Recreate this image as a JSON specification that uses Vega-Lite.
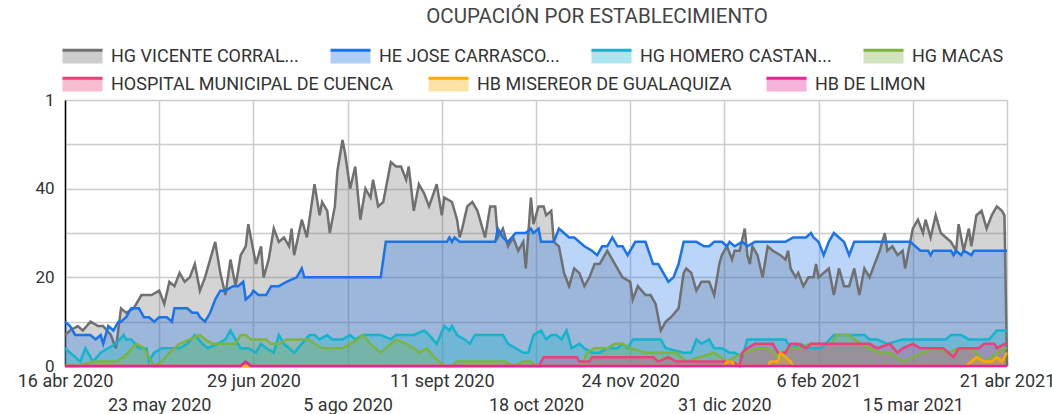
{
"$schema":"https://vega.github.io/schema/vega-lite/v6.json",
"width":942,"height":266,
"autosize":{"type":"none"},
"padding":{"left":65,"top":100,"right":45,"bottom":48},
"config":{"font":"Roboto","view":{"stroke":null}},
"title":{"text":"OCUPACIÓN POR ESTABLECIMIENTO","fontSize":20.5,"fontWeight":"normal","color":"#444444","anchor":"middle","frame":"group","dx":61,"offset":8},
"datasets":{
"names":[
{"s":"A","name":"HG VICENTE CORRAL..."},
{"s":"B","name":"HE JOSE CARRASCO..."},
{"s":"C","name":"HG HOMERO CASTAN..."},
{"s":"D","name":"HG MACAS"},
{"s":"E","name":"HOSPITAL MUNICIPAL DE CUENCA"},
{"s":"F","name":"HB MISEREOR DE GUALAQUIZA"},
{"s":"G","name":"HB DE LIMON"}
],
"occ":[
{"s":"A","d":"2020-04-16","v":7},{"s":"A","d":"2020-04-18","v":8},{"s":"A","d":"2020-04-21","v":9},{"s":"A","d":"2020-04-23","v":8},{"s":"A","d":"2020-04-26","v":10},{"s":"A","d":"2020-04-29","v":9},{"s":"A","d":"2020-05-01","v":9},{"s":"A","d":"2020-05-04","v":7},{"s":"A","d":"2020-05-06","v":4},{"s":"A","d":"2020-05-08","v":13},{"s":"A","d":"2020-05-10","v":12},{"s":"A","d":"2020-05-13","v":13},{"s":"A","d":"2020-05-16","v":16},{"s":"A","d":"2020-05-20","v":16},{"s":"A","d":"2020-05-23","v":17},{"s":"A","d":"2020-05-25","v":14},{"s":"A","d":"2020-05-27","v":19},{"s":"A","d":"2020-05-29","v":18},{"s":"A","d":"2020-05-31","v":21},{"s":"A","d":"2020-06-02","v":19},{"s":"A","d":"2020-06-04","v":20},{"s":"A","d":"2020-06-06","v":23},{"s":"A","d":"2020-06-08","v":17},{"s":"A","d":"2020-06-10","v":20},{"s":"A","d":"2020-06-12","v":24},{"s":"A","d":"2020-06-14","v":28},{"s":"A","d":"2020-06-16","v":21},{"s":"A","d":"2020-06-18","v":16},{"s":"A","d":"2020-06-20","v":24},{"s":"A","d":"2020-06-22","v":18},{"s":"A","d":"2020-06-24","v":25},{"s":"A","d":"2020-06-26","v":27},{"s":"A","d":"2020-06-27","v":32},{"s":"A","d":"2020-06-29","v":26},{"s":"A","d":"2020-06-30","v":23},{"s":"A","d":"2020-07-02","v":27},{"s":"A","d":"2020-07-03","v":20},{"s":"A","d":"2020-07-05","v":24},{"s":"A","d":"2020-07-07","v":31},{"s":"A","d":"2020-07-09","v":28},{"s":"A","d":"2020-07-11","v":29},{"s":"A","d":"2020-07-13","v":27},{"s":"A","d":"2020-07-14","v":31},{"s":"A","d":"2020-07-15","v":25},{"s":"A","d":"2020-07-18","v":33},{"s":"A","d":"2020-07-20","v":29},{"s":"A","d":"2020-07-23","v":41},{"s":"A","d":"2020-07-25","v":34},{"s":"A","d":"2020-07-26","v":37},{"s":"A","d":"2020-07-28","v":35},{"s":"A","d":"2020-07-29","v":30},{"s":"A","d":"2020-07-31","v":36},{"s":"A","d":"2020-08-01","v":44},{"s":"A","d":"2020-08-03","v":51},{"s":"A","d":"2020-08-04","v":48},{"s":"A","d":"2020-08-06","v":40},{"s":"A","d":"2020-08-08","v":45},{"s":"A","d":"2020-08-10","v":33},{"s":"A","d":"2020-08-12","v":40},{"s":"A","d":"2020-08-14","v":38},{"s":"A","d":"2020-08-15","v":42},{"s":"A","d":"2020-08-17","v":36},{"s":"A","d":"2020-08-19","v":37},{"s":"A","d":"2020-08-22","v":46},{"s":"A","d":"2020-08-24","v":45},{"s":"A","d":"2020-08-26","v":45},{"s":"A","d":"2020-08-28","v":42},{"s":"A","d":"2020-08-29","v":45},{"s":"A","d":"2020-08-31","v":35},{"s":"A","d":"2020-09-02","v":41},{"s":"A","d":"2020-09-04","v":39},{"s":"A","d":"2020-09-06","v":36},{"s":"A","d":"2020-09-09","v":41},{"s":"A","d":"2020-09-11","v":34},{"s":"A","d":"2020-09-12","v":38},{"s":"A","d":"2020-09-15","v":37},{"s":"A","d":"2020-09-17","v":33},{"s":"A","d":"2020-09-18","v":29},{"s":"A","d":"2020-09-19","v":31},{"s":"A","d":"2020-09-21","v":36},{"s":"A","d":"2020-09-23","v":37},{"s":"A","d":"2020-09-25","v":35},{"s":"A","d":"2020-09-27","v":31},{"s":"A","d":"2020-09-28","v":29},{"s":"A","d":"2020-09-30","v":36},{"s":"A","d":"2020-10-02","v":36},{"s":"A","d":"2020-10-03","v":29},{"s":"A","d":"2020-10-05","v":31},{"s":"A","d":"2020-10-07","v":27},{"s":"A","d":"2020-10-09","v":29},{"s":"A","d":"2020-10-11","v":26},{"s":"A","d":"2020-10-13","v":28},{"s":"A","d":"2020-10-14","v":22},{"s":"A","d":"2020-10-16","v":38},{"s":"A","d":"2020-10-17","v":32},{"s":"A","d":"2020-10-19","v":36},{"s":"A","d":"2020-10-21","v":36},{"s":"A","d":"2020-10-22","v":34},{"s":"A","d":"2020-10-24","v":35},{"s":"A","d":"2020-10-25","v":28},{"s":"A","d":"2020-10-27","v":27},{"s":"A","d":"2020-10-29","v":21},{"s":"A","d":"2020-10-31","v":18},{"s":"A","d":"2020-11-02","v":22},{"s":"A","d":"2020-11-04","v":21},{"s":"A","d":"2020-11-06","v":18},{"s":"A","d":"2020-11-08","v":20},{"s":"A","d":"2020-11-10","v":23},{"s":"A","d":"2020-11-12","v":23},{"s":"A","d":"2020-11-15","v":26},{"s":"A","d":"2020-11-18","v":23},{"s":"A","d":"2020-11-21","v":20},{"s":"A","d":"2020-11-24","v":19},{"s":"A","d":"2020-11-25","v":15},{"s":"A","d":"2020-11-27","v":18},{"s":"A","d":"2020-11-30","v":16},{"s":"A","d":"2020-12-02","v":16},{"s":"A","d":"2020-12-04","v":14},{"s":"A","d":"2020-12-05","v":11},{"s":"A","d":"2020-12-06","v":8},{"s":"A","d":"2020-12-08","v":10},{"s":"A","d":"2020-12-10","v":11},{"s":"A","d":"2020-12-13","v":13},{"s":"A","d":"2020-12-15","v":21},{"s":"A","d":"2020-12-16","v":22},{"s":"A","d":"2020-12-18","v":21},{"s":"A","d":"2020-12-20","v":17},{"s":"A","d":"2020-12-22","v":19},{"s":"A","d":"2020-12-25","v":19},{"s":"A","d":"2020-12-27","v":16},{"s":"A","d":"2020-12-29","v":23},{"s":"A","d":"2020-12-30","v":25},{"s":"A","d":"2021-01-01","v":27},{"s":"A","d":"2021-01-03","v":24},{"s":"A","d":"2021-01-04","v":26},{"s":"A","d":"2021-01-06","v":26},{"s":"A","d":"2021-01-08","v":31},{"s":"A","d":"2021-01-09","v":25},{"s":"A","d":"2021-01-10","v":23},{"s":"A","d":"2021-01-11","v":27},{"s":"A","d":"2021-01-13","v":25},{"s":"A","d":"2021-01-15","v":20},{"s":"A","d":"2021-01-17","v":27},{"s":"A","d":"2021-01-19","v":26},{"s":"A","d":"2021-01-22","v":25},{"s":"A","d":"2021-01-24","v":24},{"s":"A","d":"2021-01-25","v":26},{"s":"A","d":"2021-01-26","v":22},{"s":"A","d":"2021-01-28","v":20},{"s":"A","d":"2021-01-29","v":21},{"s":"A","d":"2021-01-31","v":18},{"s":"A","d":"2021-02-02","v":20},{"s":"A","d":"2021-02-04","v":20},{"s":"A","d":"2021-02-05","v":23},{"s":"A","d":"2021-02-06","v":20},{"s":"A","d":"2021-02-08","v":21},{"s":"A","d":"2021-02-10","v":22},{"s":"A","d":"2021-02-12","v":16},{"s":"A","d":"2021-02-14","v":22},{"s":"A","d":"2021-02-16","v":18},{"s":"A","d":"2021-02-18","v":18},{"s":"A","d":"2021-02-20","v":22},{"s":"A","d":"2021-02-22","v":16},{"s":"A","d":"2021-02-24","v":22},{"s":"A","d":"2021-02-26","v":20},{"s":"A","d":"2021-02-28","v":23},{"s":"A","d":"2021-03-02","v":26},{"s":"A","d":"2021-03-04","v":30},{"s":"A","d":"2021-03-05","v":26},{"s":"A","d":"2021-03-07","v":27},{"s":"A","d":"2021-03-09","v":25},{"s":"A","d":"2021-03-11","v":26},{"s":"A","d":"2021-03-12","v":22},{"s":"A","d":"2021-03-14","v":28},{"s":"A","d":"2021-03-15","v":31},{"s":"A","d":"2021-03-17","v":33},{"s":"A","d":"2021-03-19","v":30},{"s":"A","d":"2021-03-20","v":33},{"s":"A","d":"2021-03-22","v":29},{"s":"A","d":"2021-03-24","v":34},{"s":"A","d":"2021-03-26","v":30},{"s":"A","d":"2021-03-28","v":29},{"s":"A","d":"2021-03-30","v":28},{"s":"A","d":"2021-04-01","v":26},{"s":"A","d":"2021-04-02","v":32},{"s":"A","d":"2021-04-04","v":26},{"s":"A","d":"2021-04-06","v":31},{"s":"A","d":"2021-04-07","v":27},{"s":"A","d":"2021-04-09","v":34},{"s":"A","d":"2021-04-11","v":35},{"s":"A","d":"2021-04-13","v":31},{"s":"A","d":"2021-04-15","v":34},{"s":"A","d":"2021-04-17","v":36},{"s":"A","d":"2021-04-19","v":35},{"s":"A","d":"2021-04-20","v":34},{"s":"A","d":"2021-04-21","v":0},
{"s":"B","d":"2020-04-16","v":10},{"s":"B","d":"2020-04-18","v":9},{"s":"B","d":"2020-04-20","v":7},{"s":"B","d":"2020-04-23","v":7},{"s":"B","d":"2020-04-26","v":7},{"s":"B","d":"2020-04-28","v":6},{"s":"B","d":"2020-04-30","v":7},{"s":"B","d":"2020-05-01","v":5},{"s":"B","d":"2020-05-03","v":9},{"s":"B","d":"2020-05-05","v":8},{"s":"B","d":"2020-05-07","v":10},{"s":"B","d":"2020-05-08","v":10},{"s":"B","d":"2020-05-10","v":11},{"s":"B","d":"2020-05-12","v":13},{"s":"B","d":"2020-05-15","v":13},{"s":"B","d":"2020-05-17","v":11},{"s":"B","d":"2020-05-19","v":11},{"s":"B","d":"2020-05-21","v":10},{"s":"B","d":"2020-05-23","v":11},{"s":"B","d":"2020-05-26","v":11},{"s":"B","d":"2020-05-28","v":10},{"s":"B","d":"2020-05-29","v":13},{"s":"B","d":"2020-05-31","v":13},{"s":"B","d":"2020-06-03","v":13},{"s":"B","d":"2020-06-05","v":12},{"s":"B","d":"2020-06-07","v":12},{"s":"B","d":"2020-06-08","v":11},{"s":"B","d":"2020-06-10","v":10},{"s":"B","d":"2020-06-12","v":12},{"s":"B","d":"2020-06-14","v":15},{"s":"B","d":"2020-06-16","v":17},{"s":"B","d":"2020-06-18","v":17},{"s":"B","d":"2020-06-21","v":18},{"s":"B","d":"2020-06-23","v":18},{"s":"B","d":"2020-06-25","v":19},{"s":"B","d":"2020-06-26","v":15},{"s":"B","d":"2020-06-28","v":16},{"s":"B","d":"2020-06-29","v":17},{"s":"B","d":"2020-07-01","v":16},{"s":"B","d":"2020-07-04","v":16},{"s":"B","d":"2020-07-06","v":18},{"s":"B","d":"2020-07-09","v":18},{"s":"B","d":"2020-07-12","v":19},{"s":"B","d":"2020-07-16","v":20},{"s":"B","d":"2020-07-18","v":22},{"s":"B","d":"2020-07-19","v":20},{"s":"B","d":"2020-08-18","v":20},{"s":"B","d":"2020-08-20","v":28},{"s":"B","d":"2020-09-13","v":28},{"s":"B","d":"2020-09-14","v":29},{"s":"B","d":"2020-09-15","v":28},{"s":"B","d":"2020-09-16","v":29},{"s":"B","d":"2020-09-18","v":28},{"s":"B","d":"2020-10-02","v":28},{"s":"B","d":"2020-10-03","v":31},{"s":"B","d":"2020-10-05","v":29},{"s":"B","d":"2020-10-07","v":28},{"s":"B","d":"2020-10-10","v":30},{"s":"B","d":"2020-10-14","v":30},{"s":"B","d":"2020-10-16","v":31},{"s":"B","d":"2020-10-17","v":30},{"s":"B","d":"2020-10-19","v":31},{"s":"B","d":"2020-10-20","v":28},{"s":"B","d":"2020-10-25","v":28},{"s":"B","d":"2020-10-27","v":31},{"s":"B","d":"2020-10-29","v":30},{"s":"B","d":"2020-10-31","v":29},{"s":"B","d":"2020-11-02","v":29},{"s":"B","d":"2020-11-06","v":27},{"s":"B","d":"2020-11-09","v":26},{"s":"B","d":"2020-11-11","v":25},{"s":"B","d":"2020-11-13","v":27},{"s":"B","d":"2020-11-15","v":27},{"s":"B","d":"2020-11-17","v":29},{"s":"B","d":"2020-11-19","v":27},{"s":"B","d":"2020-11-21","v":27},{"s":"B","d":"2020-11-23","v":25},{"s":"B","d":"2020-11-26","v":28},{"s":"B","d":"2020-11-30","v":28},{"s":"B","d":"2020-12-03","v":23},{"s":"B","d":"2020-12-05","v":23},{"s":"B","d":"2020-12-07","v":21},{"s":"B","d":"2020-12-09","v":19},{"s":"B","d":"2020-12-11","v":20},{"s":"B","d":"2020-12-13","v":23},{"s":"B","d":"2020-12-15","v":28},{"s":"B","d":"2020-12-20","v":28},{"s":"B","d":"2020-12-23","v":27},{"s":"B","d":"2020-12-25","v":27},{"s":"B","d":"2020-12-27","v":28},{"s":"B","d":"2020-12-30","v":28},{"s":"B","d":"2021-01-01","v":27},{"s":"B","d":"2021-01-02","v":28},{"s":"B","d":"2021-01-04","v":27},{"s":"B","d":"2021-01-07","v":28},{"s":"B","d":"2021-01-09","v":27},{"s":"B","d":"2021-01-12","v":28},{"s":"B","d":"2021-01-24","v":28},{"s":"B","d":"2021-01-27","v":29},{"s":"B","d":"2021-02-01","v":29},{"s":"B","d":"2021-02-03","v":30},{"s":"B","d":"2021-02-04","v":29},{"s":"B","d":"2021-02-06","v":28},{"s":"B","d":"2021-02-08","v":25},{"s":"B","d":"2021-02-10","v":28},{"s":"B","d":"2021-02-12","v":30},{"s":"B","d":"2021-02-14","v":29},{"s":"B","d":"2021-02-16","v":28},{"s":"B","d":"2021-02-18","v":25},{"s":"B","d":"2021-02-20","v":28},{"s":"B","d":"2021-03-14","v":28},{"s":"B","d":"2021-03-16","v":27},{"s":"B","d":"2021-03-18","v":26},{"s":"B","d":"2021-03-21","v":26},{"s":"B","d":"2021-03-22","v":25},{"s":"B","d":"2021-03-23","v":26},{"s":"B","d":"2021-03-30","v":26},{"s":"B","d":"2021-03-31","v":25},{"s":"B","d":"2021-04-01","v":26},{"s":"B","d":"2021-04-03","v":25},{"s":"B","d":"2021-04-04","v":26},{"s":"B","d":"2021-04-07","v":25},{"s":"B","d":"2021-04-08","v":26},{"s":"B","d":"2021-04-21","v":26},
{"s":"C","d":"2020-04-16","v":4},{"s":"C","d":"2020-04-18","v":3},{"s":"C","d":"2020-04-20","v":2},{"s":"C","d":"2020-04-22","v":1},{"s":"C","d":"2020-04-24","v":4},{"s":"C","d":"2020-04-27","v":1},{"s":"C","d":"2020-04-30","v":3},{"s":"C","d":"2020-05-03","v":4},{"s":"C","d":"2020-05-06","v":5},{"s":"C","d":"2020-05-09","v":7},{"s":"C","d":"2020-05-10","v":6},{"s":"C","d":"2020-05-12","v":6},{"s":"C","d":"2020-05-15","v":4},{"s":"C","d":"2020-05-18","v":4},{"s":"C","d":"2020-05-19","v":1},{"s":"C","d":"2020-05-21","v":3},{"s":"C","d":"2020-05-24","v":4},{"s":"C","d":"2020-05-27","v":4},{"s":"C","d":"2020-05-31","v":4},{"s":"C","d":"2020-06-03","v":5},{"s":"C","d":"2020-06-06","v":7},{"s":"C","d":"2020-06-09","v":5},{"s":"C","d":"2020-06-11","v":4},{"s":"C","d":"2020-06-15","v":5},{"s":"C","d":"2020-06-18","v":6},{"s":"C","d":"2020-06-20","v":8},{"s":"C","d":"2020-06-22","v":6},{"s":"C","d":"2020-06-24","v":4},{"s":"C","d":"2020-06-27","v":4},{"s":"C","d":"2020-06-30","v":3},{"s":"C","d":"2020-07-02","v":5},{"s":"C","d":"2020-07-04","v":4},{"s":"C","d":"2020-07-07","v":3},{"s":"C","d":"2020-07-09","v":7},{"s":"C","d":"2020-07-11","v":5},{"s":"C","d":"2020-07-13","v":4},{"s":"C","d":"2020-07-15","v":3},{"s":"C","d":"2020-07-18","v":5},{"s":"C","d":"2020-07-21","v":7},{"s":"C","d":"2020-07-23","v":7},{"s":"C","d":"2020-07-25","v":6},{"s":"C","d":"2020-07-28","v":7},{"s":"C","d":"2020-07-30","v":6},{"s":"C","d":"2020-08-01","v":6},{"s":"C","d":"2020-08-03","v":6},{"s":"C","d":"2020-08-06","v":7},{"s":"C","d":"2020-08-08","v":6},{"s":"C","d":"2020-08-11","v":7},{"s":"C","d":"2020-08-14","v":7},{"s":"C","d":"2020-08-18","v":7},{"s":"C","d":"2020-08-22","v":6},{"s":"C","d":"2020-08-24","v":7},{"s":"C","d":"2020-08-28","v":7},{"s":"C","d":"2020-08-31","v":7},{"s":"C","d":"2020-09-04","v":8},{"s":"C","d":"2020-09-06","v":7},{"s":"C","d":"2020-09-09","v":5},{"s":"C","d":"2020-09-12","v":9},{"s":"C","d":"2020-09-14","v":8},{"s":"C","d":"2020-09-15","v":9},{"s":"C","d":"2020-09-17","v":7},{"s":"C","d":"2020-09-20","v":6},{"s":"C","d":"2020-09-22","v":5},{"s":"C","d":"2020-09-24","v":7},{"s":"C","d":"2020-09-28","v":7},{"s":"C","d":"2020-10-02","v":7},{"s":"C","d":"2020-10-05","v":7},{"s":"C","d":"2020-10-07","v":5},{"s":"C","d":"2020-10-10","v":4},{"s":"C","d":"2020-10-13","v":3},{"s":"C","d":"2020-10-15","v":3},{"s":"C","d":"2020-10-17","v":7},{"s":"C","d":"2020-10-20","v":8},{"s":"C","d":"2020-10-22","v":6},{"s":"C","d":"2020-10-24","v":7},{"s":"C","d":"2020-10-26","v":7},{"s":"C","d":"2020-10-28","v":6},{"s":"C","d":"2020-10-30","v":8},{"s":"C","d":"2020-11-01","v":4},{"s":"C","d":"2020-11-04","v":5},{"s":"C","d":"2020-11-06","v":4},{"s":"C","d":"2020-11-09","v":3},{"s":"C","d":"2020-11-12","v":3},{"s":"C","d":"2020-11-15","v":4},{"s":"C","d":"2020-11-19","v":4},{"s":"C","d":"2020-11-21","v":5},{"s":"C","d":"2020-11-23","v":4},{"s":"C","d":"2020-11-25","v":6},{"s":"C","d":"2020-12-06","v":6},{"s":"C","d":"2020-12-08","v":4},{"s":"C","d":"2020-12-15","v":3},{"s":"C","d":"2020-12-18","v":3},{"s":"C","d":"2020-12-20","v":6},{"s":"C","d":"2020-12-22","v":5},{"s":"C","d":"2020-12-25","v":6},{"s":"C","d":"2020-12-27","v":4},{"s":"C","d":"2020-12-30","v":4},{"s":"C","d":"2021-01-02","v":3},{"s":"C","d":"2021-01-04","v":3},{"s":"C","d":"2021-01-07","v":2},{"s":"C","d":"2021-01-09","v":6},{"s":"C","d":"2021-01-12","v":6},{"s":"C","d":"2021-01-24","v":6},{"s":"C","d":"2021-01-26","v":4},{"s":"C","d":"2021-01-30","v":5},{"s":"C","d":"2021-02-02","v":4},{"s":"C","d":"2021-02-07","v":4},{"s":"C","d":"2021-02-12","v":7},{"s":"C","d":"2021-02-16","v":7},{"s":"C","d":"2021-02-24","v":7},{"s":"C","d":"2021-02-26","v":6},{"s":"C","d":"2021-03-01","v":6},{"s":"C","d":"2021-03-05","v":5},{"s":"C","d":"2021-03-11","v":6},{"s":"C","d":"2021-03-15","v":6},{"s":"C","d":"2021-03-28","v":6},{"s":"C","d":"2021-03-30","v":7},{"s":"C","d":"2021-04-03","v":7},{"s":"C","d":"2021-04-06","v":6},{"s":"C","d":"2021-04-11","v":6},{"s":"C","d":"2021-04-14","v":6},{"s":"C","d":"2021-04-17","v":8},{"s":"C","d":"2021-04-20","v":8},{"s":"C","d":"2021-04-21","v":8},
{"s":"D","d":"2020-04-16","v":0},{"s":"D","d":"2020-04-21","v":0},{"s":"D","d":"2020-04-27","v":1},{"s":"D","d":"2020-05-01","v":1},{"s":"D","d":"2020-05-06","v":1},{"s":"D","d":"2020-05-09","v":2},{"s":"D","d":"2020-05-14","v":5},{"s":"D","d":"2020-05-17","v":4},{"s":"D","d":"2020-05-19","v":2},{"s":"D","d":"2020-05-21","v":0},{"s":"D","d":"2020-05-24","v":1},{"s":"D","d":"2020-05-27","v":3},{"s":"D","d":"2020-05-31","v":5},{"s":"D","d":"2020-06-04","v":6},{"s":"D","d":"2020-06-08","v":7},{"s":"D","d":"2020-06-10","v":6},{"s":"D","d":"2020-06-13","v":5},{"s":"D","d":"2020-06-17","v":5},{"s":"D","d":"2020-06-19","v":5},{"s":"D","d":"2020-06-22","v":5},{"s":"D","d":"2020-06-24","v":7},{"s":"D","d":"2020-06-26","v":7},{"s":"D","d":"2020-06-28","v":6},{"s":"D","d":"2020-07-01","v":6},{"s":"D","d":"2020-07-04","v":6},{"s":"D","d":"2020-07-06","v":5},{"s":"D","d":"2020-07-09","v":5},{"s":"D","d":"2020-07-12","v":6},{"s":"D","d":"2020-07-15","v":6},{"s":"D","d":"2020-07-18","v":6},{"s":"D","d":"2020-07-21","v":6},{"s":"D","d":"2020-07-23","v":5},{"s":"D","d":"2020-07-26","v":4},{"s":"D","d":"2020-07-29","v":4},{"s":"D","d":"2020-08-01","v":4},{"s":"D","d":"2020-08-03","v":4},{"s":"D","d":"2020-08-06","v":5},{"s":"D","d":"2020-08-09","v":6},{"s":"D","d":"2020-08-11","v":7},{"s":"D","d":"2020-08-14","v":5},{"s":"D","d":"2020-08-18","v":3},{"s":"D","d":"2020-08-22","v":5},{"s":"D","d":"2020-08-24","v":6},{"s":"D","d":"2020-08-28","v":5},{"s":"D","d":"2020-08-31","v":4},{"s":"D","d":"2020-09-02","v":3},{"s":"D","d":"2020-09-05","v":4},{"s":"D","d":"2020-09-08","v":2},{"s":"D","d":"2020-09-10","v":1},{"s":"D","d":"2020-09-12","v":0},{"s":"D","d":"2020-09-15","v":0},{"s":"D","d":"2020-09-17","v":1},{"s":"D","d":"2020-09-21","v":1},{"s":"D","d":"2020-09-25","v":1},{"s":"D","d":"2020-09-28","v":1},{"s":"D","d":"2020-10-06","v":1},{"s":"D","d":"2020-10-09","v":0},{"s":"D","d":"2020-10-13","v":1},{"s":"D","d":"2020-10-16","v":1},{"s":"D","d":"2020-10-18","v":0},{"s":"D","d":"2020-11-05","v":0},{"s":"D","d":"2020-11-07","v":3},{"s":"D","d":"2020-11-10","v":4},{"s":"D","d":"2020-11-12","v":4},{"s":"D","d":"2020-11-15","v":4},{"s":"D","d":"2020-11-18","v":5},{"s":"D","d":"2020-11-21","v":5},{"s":"D","d":"2020-11-24","v":4},{"s":"D","d":"2020-11-30","v":3},{"s":"D","d":"2020-12-06","v":3},{"s":"D","d":"2020-12-12","v":3},{"s":"D","d":"2020-12-16","v":1},{"s":"D","d":"2020-12-21","v":2},{"s":"D","d":"2020-12-27","v":3},{"s":"D","d":"2021-01-01","v":1},{"s":"D","d":"2021-01-04","v":2},{"s":"D","d":"2021-01-08","v":3},{"s":"D","d":"2021-01-13","v":4},{"s":"D","d":"2021-01-17","v":4},{"s":"D","d":"2021-01-21","v":2},{"s":"D","d":"2021-01-23","v":3},{"s":"D","d":"2021-01-26","v":4},{"s":"D","d":"2021-01-29","v":4},{"s":"D","d":"2021-02-03","v":5},{"s":"D","d":"2021-02-07","v":5},{"s":"D","d":"2021-02-11","v":5},{"s":"D","d":"2021-02-13","v":7},{"s":"D","d":"2021-02-18","v":7},{"s":"D","d":"2021-02-20","v":6},{"s":"D","d":"2021-02-23","v":5},{"s":"D","d":"2021-02-26","v":4},{"s":"D","d":"2021-03-02","v":3},{"s":"D","d":"2021-03-06","v":3},{"s":"D","d":"2021-03-11","v":1},{"s":"D","d":"2021-03-15","v":2},{"s":"D","d":"2021-03-19","v":3},{"s":"D","d":"2021-03-24","v":4},{"s":"D","d":"2021-03-29","v":3},{"s":"D","d":"2021-04-02","v":4},{"s":"D","d":"2021-04-06","v":4},{"s":"D","d":"2021-04-09","v":3},{"s":"D","d":"2021-04-12","v":1},{"s":"D","d":"2021-04-15","v":2},{"s":"D","d":"2021-04-17","v":3},{"s":"D","d":"2021-04-20","v":4},{"s":"D","d":"2021-04-21","v":4},
{"s":"E","d":"2020-04-16","v":0},{"s":"E","d":"2020-10-19","v":0},{"s":"E","d":"2020-10-21","v":2},{"s":"E","d":"2020-11-03","v":2},{"s":"E","d":"2020-11-04","v":1},{"s":"E","d":"2020-11-08","v":1},{"s":"E","d":"2020-11-09","v":2},{"s":"E","d":"2020-12-03","v":2},{"s":"E","d":"2020-12-05","v":1},{"s":"E","d":"2020-12-09","v":2},{"s":"E","d":"2020-12-12","v":1},{"s":"E","d":"2021-01-03","v":1},{"s":"E","d":"2021-01-06","v":0},{"s":"E","d":"2021-01-07","v":3},{"s":"E","d":"2021-01-09","v":4},{"s":"E","d":"2021-01-12","v":5},{"s":"E","d":"2021-01-19","v":5},{"s":"E","d":"2021-01-21","v":3},{"s":"E","d":"2021-01-24","v":3},{"s":"E","d":"2021-01-26","v":5},{"s":"E","d":"2021-01-29","v":5},{"s":"E","d":"2021-02-01","v":4},{"s":"E","d":"2021-02-03","v":5},{"s":"E","d":"2021-02-06","v":5},{"s":"E","d":"2021-02-10","v":5},{"s":"E","d":"2021-02-18","v":5},{"s":"E","d":"2021-02-21","v":5},{"s":"E","d":"2021-02-26","v":5},{"s":"E","d":"2021-03-01","v":4},{"s":"E","d":"2021-03-06","v":5},{"s":"E","d":"2021-03-09","v":3},{"s":"E","d":"2021-03-11","v":4},{"s":"E","d":"2021-03-15","v":5},{"s":"E","d":"2021-03-18","v":4},{"s":"E","d":"2021-03-24","v":4},{"s":"E","d":"2021-03-27","v":4},{"s":"E","d":"2021-03-31","v":2},{"s":"E","d":"2021-04-02","v":4},{"s":"E","d":"2021-04-05","v":4},{"s":"E","d":"2021-04-10","v":4},{"s":"E","d":"2021-04-12","v":5},{"s":"E","d":"2021-04-16","v":5},{"s":"E","d":"2021-04-17","v":4},{"s":"E","d":"2021-04-20","v":5},{"s":"E","d":"2021-04-21","v":5},
{"s":"F","d":"2020-04-16","v":0},{"s":"F","d":"2020-12-31","v":0},{"s":"F","d":"2021-01-01","v":1},{"s":"F","d":"2021-01-03","v":1},{"s":"F","d":"2021-01-04","v":0},{"s":"F","d":"2021-01-17","v":0},{"s":"F","d":"2021-01-18","v":1},{"s":"F","d":"2021-01-21","v":1},{"s":"F","d":"2021-01-22","v":3},{"s":"F","d":"2021-01-24","v":2},{"s":"F","d":"2021-01-26","v":1},{"s":"F","d":"2021-01-27","v":0},{"s":"F","d":"2021-04-05","v":0},{"s":"F","d":"2021-04-07","v":1},{"s":"F","d":"2021-04-09","v":2},{"s":"F","d":"2021-04-12","v":1},{"s":"F","d":"2021-04-15","v":1},{"s":"F","d":"2021-04-17","v":2},{"s":"F","d":"2021-04-19","v":1},{"s":"F","d":"2021-04-21","v":3},
{"s":"G","d":"2020-04-16","v":0},{"s":"G","d":"2020-06-24","v":0},{"s":"G","d":"2020-06-26","v":1},{"s":"G","d":"2020-06-28","v":0},{"s":"G","d":"2021-04-21","v":0}
]},
"data":{"name":"occ"},
"transform":[{"lookup":"s","from":{"data":{"name":"names"},"key":"s","fields":["name"]}}],
"encoding":{
"x":{"field":"d","type":"temporal","scale":{"type":"utc","domain":[{"year":2020,"month":4,"date":16,"utc":true},{"year":2021,"month":4,"date":21,"utc":true}]},
"axis":{"title":null,"values":[{"year":2020,"month":4,"date":16,"utc":true},{"year":2020,"month":5,"date":23,"utc":true},{"year":2020,"month":6,"date":29,"utc":true},{"year":2020,"month":8,"date":5,"utc":true},{"year":2020,"month":9,"date":11,"utc":true},{"year":2020,"month":10,"date":18,"utc":true},{"year":2020,"month":11,"date":24,"utc":true},{"year":2020,"month":12,"date":31,"utc":true},{"year":2021,"month":2,"date":6,"utc":true},{"year":2021,"month":3,"date":15,"utc":true},{"year":2021,"month":4,"date":21,"utc":true}],
"labelExpr":"round((datum.value - utc(2020,3,16))/(37*86400000)) % 2 == 1 ? ['', utcdate(datum.value) + ' ' + ['ene','feb','mar','abr','may','jun','jul','ago','sept','oct','nov','dic'][utcmonth(datum.value)] + ' ' + utcyear(datum.value)] : utcdate(datum.value) + ' ' + ['ene','feb','mar','abr','may','jun','jul','ago','sept','oct','nov','dic'][utcmonth(datum.value)] + ' ' + utcyear(datum.value)",
"domain":false,"ticks":false,"labelOverlap":false,"labelFlush":false,"labelBound":false,"labelAngle":0,"labelFontSize":18,"labelColor":"#333333","labelPadding":6,"labelBaseline":"top","labelLineHeight":24,"gridColor":"#cccccc","gridWidth":1.5}},
"y":{"field":"v","type":"quantitative","stack":null,"scale":{"domain":[0,60],"nice":false},
"axis":{"title":null,"values":[0,10,20,30,40,50,60],"labelExpr":"datum.value == 60 ? '1' : (datum.value % 20 == 0 ? datum.label : '')","domainColor":"#000000","domainWidth":1.5,"ticks":false,"labelPadding":11,"labelFontSize":17,"labelColor":"#333333","gridColor":"#cccccc","gridWidth":1.5}}
},
"layer":[
{"mark":{"type":"area","fillOpacity":0.3,"interpolate":"linear"},
"encoding":{"fill":{"field":"name","type":"nominal",
"scale":{"domain":["HG VICENTE CORRAL...","HE JOSE CARRASCO...","HG HOMERO CASTAN...","HG MACAS","HOSPITAL MUNICIPAL DE CUENCA","HB MISEREOR DE GUALAQUIZA","HB DE LIMON"],"range":["#707070","#1a73e8","#12b5cb","#7cb342","#ec407a","#f9ab00","#e52592"]},
"legend":{"title":null,"orient":"none","legendX":-4,"legendY":-65,"direction":"horizontal","values":["HG VICENTE CORRAL...","HE JOSE CARRASCO...","HG HOMERO CASTAN...","HG MACAS"],"columnPadding":25,"symbolType":"M-1,-0.33H1V0.33H-1Z","symbolSize":1600,"labelFontSize":18,"labelColor":"#333333","labelOffset":7,"labelLimit":500,
"encode":{"symbols":{"update":{"fill":{"scale":"fill","field":"value"},"fillOpacity":{"value":0.35},"stroke":{"scale":"fill","field":"value"},"strokeWidth":{"value":3},"strokeDash":{"value":[40,100]},"opacity":{"value":1}}}}}}}},
{"mark":{"type":"line","strokeWidth":2.5,"interpolate":"linear"},
"encoding":{"stroke":{"field":"name","type":"nominal",
"scale":{"domain":["HB DE LIMON","HB MISEREOR DE GUALAQUIZA","HOSPITAL MUNICIPAL DE CUENCA","HG MACAS","HG HOMERO CASTAN...","HE JOSE CARRASCO...","HG VICENTE CORRAL..."],"range":["#e52592","#f9ab00","#ec407a","#7cb342","#12b5cb","#1a73e8","#707070"]},
"legend":{"title":null,"orient":"none","legendX":-4,"legendY":-37,"direction":"horizontal","values":["HOSPITAL MUNICIPAL DE CUENCA","HB MISEREOR DE GUALAQUIZA","HB DE LIMON"],"columnPadding":28,"symbolType":"M-1,-0.33H1V0.33H-1Z","symbolSize":1600,"labelFontSize":18,"labelColor":"#333333","labelOffset":7,"labelLimit":500,
"encode":{"symbols":{"update":{"fill":{"scale":"stroke","field":"value"},"fillOpacity":{"value":0.35},"stroke":{"scale":"stroke","field":"value"},"strokeWidth":{"value":3},"strokeDash":{"value":[40,100]},"opacity":{"value":1}}}}}}}}
]
}
